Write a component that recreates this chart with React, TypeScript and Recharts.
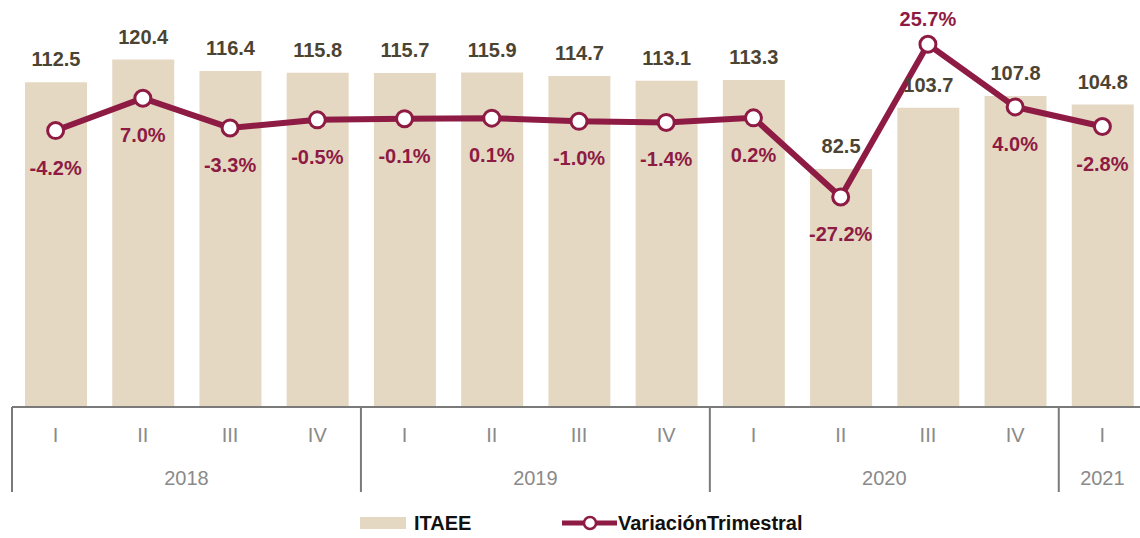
import { ComposedChart, Bar, Line, XAxis, YAxis, LabelList } from "recharts";

// Índice trimestral (ITAEE) y su variación trimestral, 2018-I a 2021-I
const QUARTERS = ["I", "II", "III", "IV", "I", "II", "III", "IV", "I", "II", "III", "IV", "I"];
const YEARS = ["2018", "2018", "2018", "2018", "2019", "2019", "2019", "2019", "2020", "2020", "2020", "2020", "2021"];
const ITAEE = [112.5, 120.4, 116.4, 115.8, 115.7, 115.9, 114.7, 113.1, 113.3, 82.5, 103.7, 107.8, 104.8];
const VARIACION = [-4.2, 7.0, -3.3, -0.5, -0.1, 0.1, -1.0, -1.4, 0.2, -27.2, 25.7, 4.0, -2.8];

const BAR_COLOR = "#e4d8c3";
const LINE_COLOR = "#8e1b43";
const FONT = "'Liberation Sans', Arial, sans-serif";

const CHART_W = 1146;
const MARGIN = { top: 3, right: 0, left: 12, bottom: 46 };
const PLOT_W = CHART_W - MARGIN.left - MARGIN.right;

const data = QUARTERS.map((q, i) => ({
  key: `${YEARS[i]}-${q}`,
  itaee: ITAEE[i],
  variacion: VARIACION[i],
}));

// quarter label + year group label + group separators
function QuarterTick(props: any) {
  const { x, y, payload } = props;
  const i: number = props.index ?? payload.index;
  const band = PLOT_W / QUARTERS.length;
  const yr = YEARS[i];
  const first = YEARS.indexOf(yr);
  const count = YEARS.filter((v) => v === yr).length;
  const mid = first + (count - 1) / 2;
  return (
    <g>
      <text x={x} y={y + 35} textAnchor="middle" fill="#8a8a8a" fontSize={20} fontFamily={FONT}>
        {QUARTERS[i]}
      </text>
      {i === first && (
        <line x1={x - band / 2} x2={x - band / 2} y1={y} y2={y + 85} stroke="#7a7a7a" strokeWidth={2} />
      )}
      {i === Math.floor(mid) && (
        <text x={x + (mid - i) * band} y={y + 78} textAnchor="middle" fill="#8a8a8a" fontSize={20} fontFamily={FONT}>
          {yr}
        </text>
      )}
    </g>
  );
}

function PctLabel(props: any) {
  const { x, y, value } = props;
  const above = value > 20;
  return (
    <text
      x={x}
      y={above ? y - 18 : y + 44}
      textAnchor="middle"
      fill={LINE_COLOR}
      fontSize={20}
      fontWeight="bold"
      fontFamily={FONT}
    >
      {`${Number(value).toFixed(1)}%`}
    </text>
  );
}

function ChartLegend() {
  return (
    <svg width={1140} height={40} style={{ position: "absolute", left: 0, top: 503 }}>
      <rect x={360} y={14} width={46} height={12} fill={BAR_COLOR} />
      <text x={414} y={27} fontSize={20} fontWeight="bold" fontFamily={FONT} fill="#111">
        ITAEE
      </text>
      <line x1={562} x2={617} y1={20} y2={20} stroke={LINE_COLOR} strokeWidth={5} />
      <circle cx={590} cy={20} r={6} fill="#fff" stroke={LINE_COLOR} strokeWidth={2.5} />
      <text x={618} y={27} fontSize={20} fontWeight="bold" fontFamily={FONT} fill="#111">
        VariaciónTrimestral
      </text>
    </svg>
  );
}

export default function App() {
  return (
    <div style={{ position: "absolute", left: 0, top: 0, width: 1140, height: 538, overflow: "hidden", background: "#fff" }}>
      <ComposedChart width={CHART_W} height={538} data={data} margin={MARGIN}>
        <XAxis
          dataKey="key"
          height={85}
          tickLine={false}
          tickSize={0}
          tickMargin={0}
          interval={0}
          axisLine={{ stroke: "#7a7a7a", strokeWidth: 2 }}
          tick={<QuarterTick />}
        />
        <YAxis yAxisId="left" domain={[0, 140]} hide />
        <YAxis yAxisId="right" orientation="right" domain={[-100, 40]} hide />
        <Bar yAxisId="left" dataKey="itaee" fill={BAR_COLOR} barSize={62} isAnimationActive={false}>
          <LabelList
            dataKey="itaee"
            position="top"
            offset={16}
            fill="#4b4433"
            fontSize={20}
            fontWeight="bold"
            fontFamily={FONT}
            formatter={(v: any) => Number(v).toFixed(1)}
          />
        </Bar>
        <Line
          yAxisId="right"
          dataKey="variacion"
          stroke={LINE_COLOR}
          strokeWidth={6}
          dot={{ r: 8, fill: "#fff", stroke: LINE_COLOR, strokeWidth: 3 }}
          activeDot={false}
          isAnimationActive={false}
        >
          <LabelList dataKey="variacion" content={<PctLabel />} />
        </Line>
      </ComposedChart>
      <ChartLegend />
    </div>
  );
}
